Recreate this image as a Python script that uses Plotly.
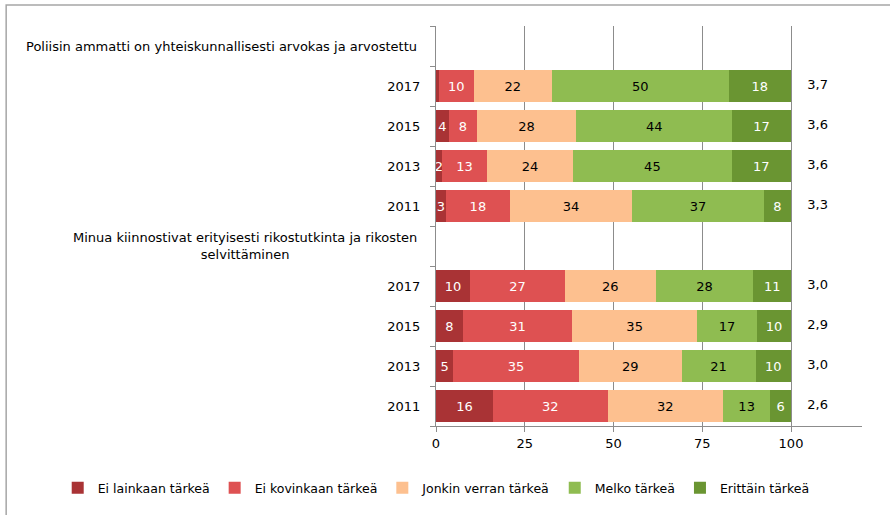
import plotly.graph_objects as go

# Data (percent shares)
statements = [
    "Poliisin ammatti on yhteiskunnallisesti arvokas ja arvostettu",
    "Minua kiinnostivat erityisesti rikostutkinta ja rikosten<br>selvittäminen",
]
years = ["2017", "2015", "2013", "2011"]

series_names = ["Ei lainkaan tärkeä", "Ei kovinkaan tärkeä", "Jonkin verran tärkeä",
                "Melko tärkeä", "Erittäin tärkeä"]
ei_lainkaan = [0.8, 3.6, 1.6, 2.8, 9.6, 7.6, 4.9, 16.0]
ei_kovinkaan = [9.8, 7.9, 12.8, 18.0, 26.7, 30.7, 35.3, 32.4]
jonkin_verran = [22.1, 28.0, 24.2, 34.4, 25.6, 35.3, 29.0, 32.4]
melko = [49.7, 43.9, 44.7, 37.2, 27.5, 16.8, 20.8, 13.4]
erittain = [17.6, 16.6, 16.7, 7.6, 10.6, 9.6, 10.0, 5.8]
means = ["3,7", "3,6", "3,6", "3,3", "3,0", "2,9", "3,0", "2,6"]

COLORS = ['#A93335', '#DE5152', '#FDC08F', '#8FBC51', '#6A9532']
TEXT_COLORS = ['white', 'white', 'black', 'black', 'white']
FONT = 'DejaVu Sans, Verdana, sans-serif'
GRID = '#8C8C8C'

# row layout: header row then the four years, for each statement
header_rows = []
bar_rows = []
for g in range(len(statements)):
    base = g * (len(years) + 1)
    header_rows.append(base)
    bar_rows += [base + 1 + i for i in range(len(years))]
n_rows = len(statements) * (len(years) + 1)

fig = go.Figure()

for name, vals, col, tcol in zip(series_names,
                                 [ei_lainkaan, ei_kovinkaan, jonkin_verran, melko, erittain],
                                 COLORS, TEXT_COLORS):
    fig.add_trace(go.Bar(
        y=bar_rows,
        x=vals,
        name=name,
        orientation='h',
        marker=dict(color=col, line=dict(width=0)),
        text=[f"{v:.0f}" if v >= 1 else "" for v in vals],
        textposition='inside',
        insidetextanchor='middle',
        constraintext='none',
        textangle=0,
        textfont=dict(color=tcol, size=13, family=FONT),
        hoverinfo='x+name',
    ))

# mean values to the right of bars
fig.add_trace(go.Scatter(
    x=[107.5] * len(means),
    y=bar_rows,
    mode='text',
    text=means,
    textposition='middle center',
    textfont=dict(size=13, color='black', family=FONT),
    showlegend=False,
    hoverinfo='skip',
))

# statement headers
for r, s in zip(header_rows, statements):
    fig.add_annotation(
        x=0, xref='paper', y=r, yref='y',
        text=s, showarrow=False,
        xanchor='right', xshift=-17, align='center',
        font=dict(size=13, color='black', family=FONT),
    )

# outer frame
fig.add_shape(type='rect', xref='paper', yref='paper',
              x0=-1.009, x1=1.08, y0=-0.25, y1=1.0525,
              line=dict(color='#A6A6A6', width=1.5), fillcolor='rgba(0,0,0,0)')

fig.update_layout(
    width=890, height=515,
    margin=dict(l=436, r=28, t=26, b=89),
    barmode='stack',
    bargap=0.22,
    plot_bgcolor='white',
    paper_bgcolor='white',
    font=dict(family=FONT, size=13, color='black'),
    showlegend=True,
    legend=dict(
        orientation='h',
        x=-0.888, xanchor='left',
        y=-0.155, yanchor='middle',
        font=dict(size=12.5, family=FONT),
        itemwidth=30,
        traceorder='normal',
    ),
)

fig.update_xaxes(
    range=[0, 120],
    tickvals=[0, 25, 50, 75, 100],
    showgrid=True, gridcolor=GRID, gridwidth=1,
    showline=True, linecolor=GRID, linewidth=1,
    ticks='outside', ticklen=5, tickcolor=GRID,
    tickfont=dict(size=13, family=FONT),
    zeroline=False,
    fixedrange=True,
)

fig.update_yaxes(
    range=[n_rows - 0.5, -0.5],
    tickvals=bar_rows,
    ticktext=years * len(statements),
    ticks='',
    ticklabelstandoff=12,
    tickfont=dict(size=13, family=FONT),
    showgrid=False, zeroline=False,
    showline=True, linecolor=GRID, linewidth=1,
    minor=dict(tickvals=[i - 0.5 for i in range(n_rows + 1)],
               ticks='outside', ticklen=5, tickcolor=GRID, showgrid=False),
    fixedrange=True,
)

# page body has a default margin; drop it so the figure sits at the window corner
fig.write_html("out.html",
               config={'displayModeBar': False},
               post_script="document.body.style.margin='0';")
